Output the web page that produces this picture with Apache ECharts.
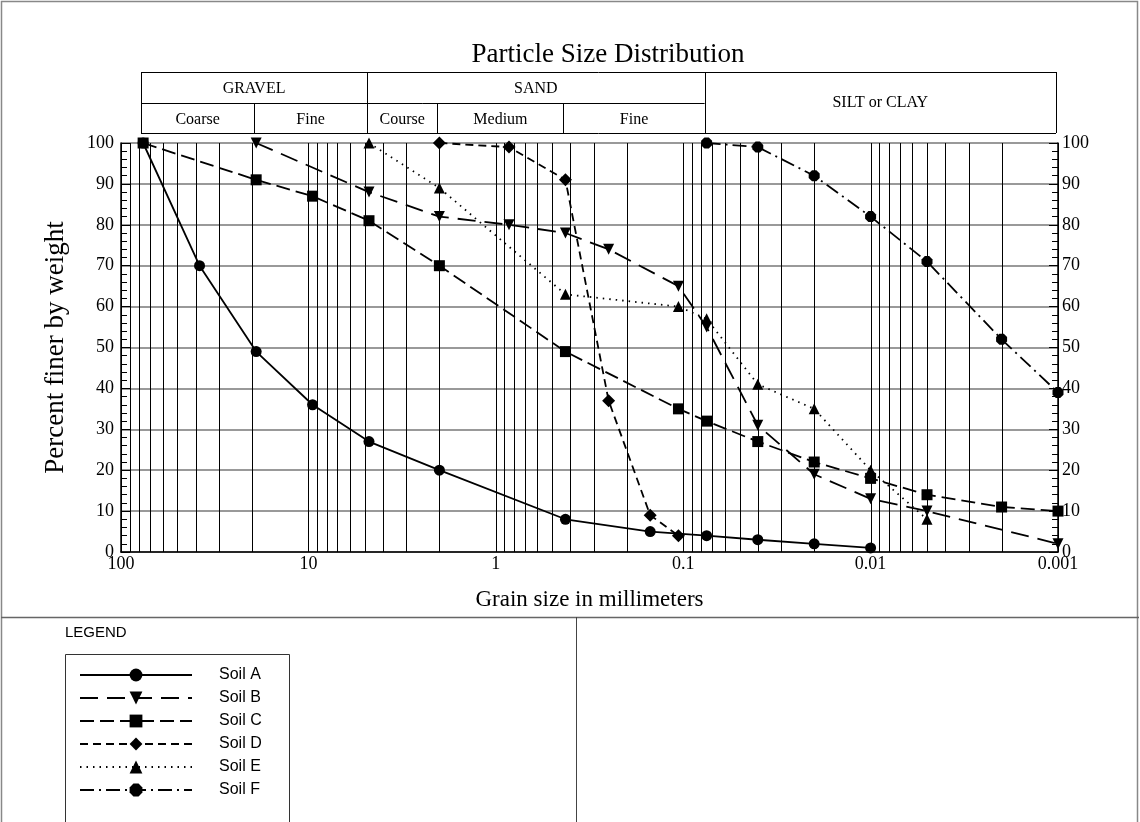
<!DOCTYPE html>
<html>
<head>
<meta charset="utf-8">
<script src="https://cdn.jsdelivr.net/npm/echarts@6/dist/echarts.min.js"></script>
<style>
  html, body { margin: 0; padding: 0; background: #fff; }
  #chart { width: 1140px; height: 822px; }
</style>
</head>
<body>
<div id="chart"></div>
<script>
// grain size (mm) vs percent finer
const soilA = [[76.2, 100], [38.1, 70], [19, 49], [9.5, 36], [4.75, 27], [2, 20], [0.425, 8], [0.15, 5], [0.075, 4], [0.04, 3], [0.02, 2], [0.01, 1]]
const soilB = [[19, 100], [4.75, 88], [2, 82], [0.85, 80], [0.425, 78], [0.25, 74], [0.106, 65], [0.075, 55], [0.04, 31], [0.02, 19], [0.01, 13], [0.005, 10], [0.001, 2]]
const soilC = [[76.2, 100], [19, 91], [9.5, 87], [4.75, 81], [2, 70], [0.425, 49], [0.106, 35], [0.075, 32], [0.04, 27], [0.02, 22], [0.01, 18], [0.005, 14], [0.002, 11], [0.001, 10]]
const soilD = [[2, 100], [0.85, 99], [0.425, 91], [0.25, 37], [0.15, 9], [0.106, 4]]
const soilE = [[4.75, 100], [2, 89], [0.425, 63], [0.106, 60], [0.075, 57], [0.04, 41], [0.02, 35], [0.01, 20], [0.005, 8]]
const soilF = [[0.075, 100], [0.04, 99], [0.02, 92], [0.01, 82], [0.005, 71], [0.002, 52], [0.001, 39]]

const soilNames = ['Soil A', 'Soil B', 'Soil C', 'Soil D', 'Soil E', 'Soil F']

// vertical grid lines (1..9 x each decade)
const gridSizes = []
;[0.001, 0.01, 0.1, 1, 10].forEach(function(d) {
  for (let k = 1; k <= 9; k++) gridSizes.push(+(k * d).toPrecision(3))
})
gridSizes.push(100)

// classification header: boundaries in mm
const bandEdges = [76.2, 19, 4.75, 2, 0.425, 0.075, 0.001]
const mainBands = [['GRAVEL', 0, 2], ['SAND', 2, 5]]
const subBands = ['Coarse', 'Fine', 'Course', 'Medium', 'Fine']

const serif = 'Liberation Serif'
const sans = 'Liberation Sans'

const hexagon = 'path://M3,0 L7,0 L10,3 L10,7 L7,10 L3,10 L0,7 L0,3 Z'

function soilSeries(name, data, symbol, dash, extra) {
  return Object.assign({
    name: name,
    type: 'line',
    data: data,
    symbol: symbol,
    symbolSize: 11,
    showSymbol: true,
    z: 5,
    itemStyle: { color: '#000' },
    lineStyle: { color: '#000', width: 1.8, type: dash },
    animation: false
  }, extra || {})
}

const chart = echarts.init(document.getElementById('chart'))

chart.setOption({
  animation: false,
  backgroundColor: '#fff',
  grid: { left: 121, right: 82, top: 143, bottom: 270 },
  xAxis: {
    type: 'log',
    logBase: 10,
    min: 0.001,
    max: 100,
    inverse: true,
    name: 'Grain size in millimeters',
    nameLocation: 'middle',
    nameGap: 36,
    nameTextStyle: { fontFamily: serif, fontSize: 23, color: '#000' },
    axisLine: { lineStyle: { color: '#000', width: 1.5 } },
    axisTick: { show: false },
    splitLine: { show: false },
    axisLabel: {
      fontFamily: serif, fontSize: 18, color: '#000', margin: 3,
      formatter: function(v) { return String(+(+v).toPrecision(3)) }
    }
  },
  yAxis: [{
    type: 'value',
    min: 0, max: 100, interval: 10,
    name: 'Percent finer by weight',
    nameLocation: 'middle',
    nameRotate: 90,
    nameGap: 52,
    nameTextStyle: { fontFamily: serif, fontSize: 27, color: '#000' },
    axisLine: { show: true, lineStyle: { color: '#000', width: 1.5 } },
    axisTick: { show: true, inside: true, length: 9, lineStyle: { color: '#000' } },
    minorTick: { show: true, splitNumber: 5, length: 6, lineStyle: { color: '#000' } },
    splitLine: { show: true, lineStyle: { color: '#777', width: 1.5 } },
    axisLabel: { fontFamily: serif, fontSize: 18, color: '#000', margin: 7 }
  }, {
    type: 'value',
    position: 'right',
    min: 0, max: 100, interval: 10,
    axisLine: { show: true, lineStyle: { color: '#000', width: 1.5 } },
    axisTick: { show: true, inside: true, length: 9, lineStyle: { color: '#000' } },
    minorTick: { show: true, splitNumber: 5, length: 6, lineStyle: { color: '#000' } },
    splitLine: { show: false },
    axisLabel: { fontFamily: serif, fontSize: 18, color: '#000', margin: 4 }
  }],
  legend: {
    orient: 'vertical',
    left: 79,
    top: 667,
    height: 200,
    padding: 0,
    data: soilNames,
    itemWidth: 112,
    itemHeight: 16,
    itemGap: 7,
    selectedMode: false,
    textStyle: { fontFamily: sans, fontSize: 16, color: '#000', padding: [0, 0, 0, 22] }
  },
  series: [
    {
      name: 'grid',
      type: 'custom',
      silent: true,
      z: 1,
      data: gridSizes.map(function(v) { return [v] }),
      renderItem: function(params, api) {
        const top = api.coord([api.value(0), 100])
        const bottom = api.coord([api.value(0), 0])
        return {
          type: 'line',
          shape: { x1: Math.round(top[0]) + 0.5, y1: top[1], x2: Math.round(bottom[0]) + 0.5, y2: bottom[1] },
          style: { stroke: '#000', lineWidth: 1 }
        }
      }
    },
    soilSeries('Soil A', soilA, 'circle', 'solid'),
    soilSeries('Soil B', soilB, 'triangle', [18, 9], { symbolRotate: 180 }),
    soilSeries('Soil C', soilC, 'rect', [14, 6]),
    soilSeries('Soil D', soilD, 'diamond', [8, 5], { symbolSize: 13 }),
    soilSeries('Soil E', soilE, 'triangle', [1.5, 5]),
    soilSeries('Soil F', soilF, hexagon, [14, 5, 2, 5])
  ]
})

// header table and frame, placed from the x axis scale
const headerTop = 72
const headerMid = 103
const headerBottom = 133
const edgeX = bandEdges.map(function(v) { return chart.convertToPixel({ xAxisIndex: 0 }, v) })
const boxLeft = Math.round(edgeX[0]) - 2
const boxRight = Math.round(edgeX[6]) - 2
const graphics = []

function hline(x1, x2, y, color, w) {
  graphics.push({ type: 'line', silent: true, shape: { x1: x1, y1: y, x2: x2, y2: y }, style: { stroke: color || '#000', lineWidth: w || 1 } })
}
function vline(x, y1, y2, color, w) {
  graphics.push({ type: 'line', silent: true, shape: { x1: x, y1: y1, x2: x, y2: y2 }, style: { stroke: color || '#000', lineWidth: w || 1 } })
}
function label(text, x, y, font, size) {
  graphics.push({ type: 'text', silent: true, x: x, y: y, style: { text: text, fontFamily: font, fontSize: size, fill: '#000', align: 'center', verticalAlign: 'middle' } })
}

hline(boxLeft, boxRight, headerTop + 0.5)
hline(boxLeft, boxRight, headerBottom + 0.5)
hline(boxLeft, edgeX[5] - 2, headerMid + 0.5)
vline(boxLeft + 0.5, headerTop, headerBottom)
vline(boxRight + 0.5, headerTop, headerBottom)
;[2, 5].forEach(function(i) { vline(Math.round(edgeX[i]) - 1.5, headerTop, headerBottom) })
;[1, 3, 4].forEach(function(i) { vline(Math.round(edgeX[i]) - 1.5, headerMid, headerBottom) })
mainBands.forEach(function(b) {
  label(b[0], (edgeX[b[1]] + edgeX[b[2]]) / 2 - 2, (headerTop + headerMid) / 2 + 1, serif, 16)
})
subBands.forEach(function(t, i) {
  label(t, (edgeX[i] + edgeX[i + 1]) / 2 - 2, (headerMid + headerBottom) / 2 + 2, serif, 16)
})
label('SILT or CLAY', (edgeX[5] + edgeX[6]) / 2 - 2, headerMid, serif, 16)
label('Particle Size Distribution', 608, 55, serif, 27)

// outer frame and legend panel
graphics.push({ type: 'rect', silent: true, shape: { x: 1.5, y: 1.5, width: 1136, height: 840 }, style: { fill: null, stroke: '#888', lineWidth: 1.5 } })
hline(1, 1139, 617.5, '#666', 1.5)
vline(576.5, 617, 822, '#444', 1)
graphics.push({ type: 'rect', silent: true, shape: { x: 65.5, y: 654.5, width: 224, height: 200 }, style: { fill: null, stroke: '#333', lineWidth: 1 } })
graphics.push({ type: 'text', silent: true, x: 65, y: 633, style: { text: 'LEGEND', fontFamily: sans, fontSize: 15, fill: '#000', verticalAlign: 'middle' } })

chart.setOption({ graphic: graphics })
</script>
</body>
</html>
